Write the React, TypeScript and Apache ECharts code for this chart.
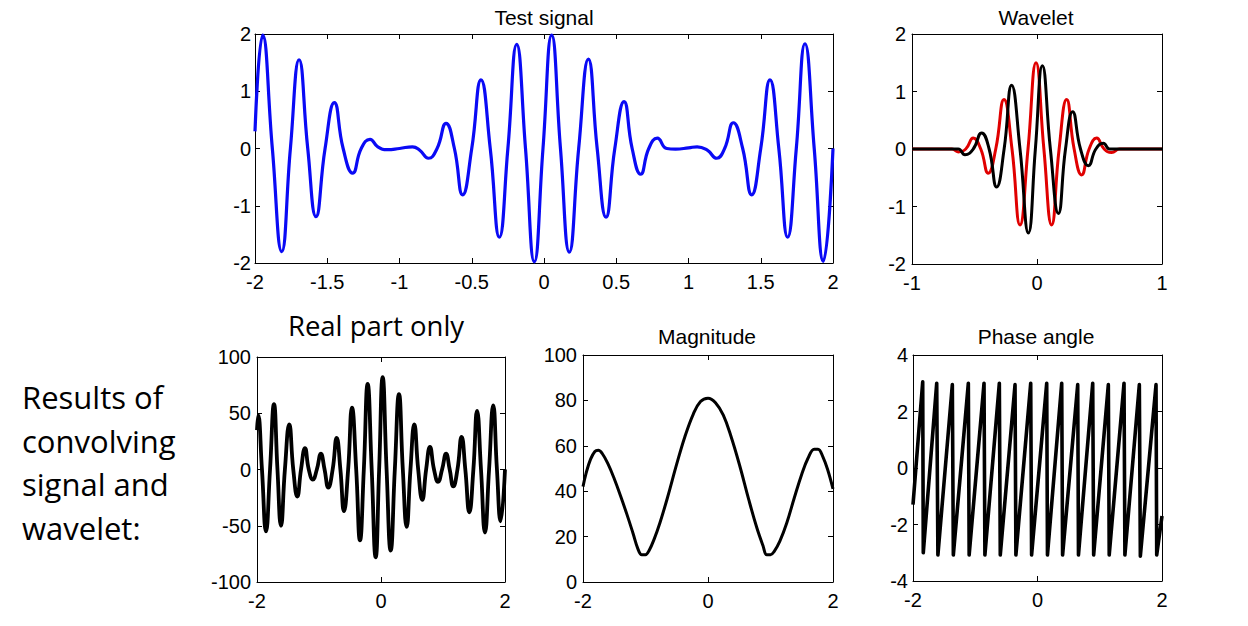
import React, { useEffect, useRef } from "react";
import * as echarts from "echarts";

// ---------- data ----------
const testSignal: [number, number][] = [
  [-2, 0.3], [-1.947, 1.98], [-1.88, 0], [-1.815, -1.8], [-1.755, 0], [-1.695, 1.55],
  [-1.635, 0], [-1.578, -1.19], [-1.515, 0], [-1.451, 0.8], [-1.39, 0], [-1.324, -0.43],
  [-1.265, 0], [-1.204, 0.16], [-1.15, 0.03], [-1.085, -0.02], [-1.0, 0.0], [-0.91, 0.03],
  [-0.86, -0.03], [-0.8, -0.17], [-0.74, 0], [-0.678, 0.44], [-0.62, 0], [-0.563, -0.81],
  [-0.5, 0], [-0.436, 1.2], [-0.372, 0], [-0.309, -1.55], [-0.25, 0], [-0.189, 1.82],
  [-0.128, 0], [-0.067, -1.98], [-0.007, 0], [0.053, 1.98], [0.114, 0], [0.175, -1.81],
  [0.24, 0], [0.307, 1.56], [0.368, 0], [0.429, -1.2], [0.49, 0], [0.554, 0.82],
  [0.61, 0], [0.669, -0.45], [0.725, 0], [0.784, 0.18], [0.85, 0.0], [0.91, -0.01],
  [1.0, 0.01], [1.06, 0.03], [1.13, -0.03], [1.195, -0.17], [1.25, 0], [1.31, 0.45],
  [1.375, 0], [1.437, -0.81], [1.5, 0], [1.564, 1.2], [1.625, 0], [1.686, -1.55],
  [1.746, 0], [1.806, 1.83], [1.87, 0], [1.933, -1.97], [2, 0.0],
];

const waveletReal: [number, number][] = [
  [-1, 0], [-0.75, 0], [-0.68, 0], [-0.63, -0.05], [-0.57, 0], [-0.51, 0.19], [-0.45, 0],
  [-0.39, -0.42], [-0.33, 0], [-0.264, 0.86], [-0.2, 0], [-0.136, -1.32], [-0.072, 0],
  [-0.008, 1.5], [0.055, 0], [0.117, -1.32], [0.177, 0], [0.237, 0.86], [0.297, 0],
  [0.357, -0.45], [0.417, 0], [0.477, 0.19], [0.537, 0], [0.597, -0.06], [0.66, 0],
  [0.75, 0], [1, 0],
];

const waveletImag: [number, number][] = [
  [-1, 0], [-0.7, 0], [-0.63, 0], [-0.576, -0.1], [-0.51, 0], [-0.443, 0.28], [-0.383, 0],
  [-0.323, -0.66], [-0.263, 0], [-0.203, 1.11], [-0.136, 0], [-0.069, -1.46], [-0.013, 0],
  [0.043, 1.45], [0.107, 0], [0.171, -1.12], [0.228, 0], [0.285, 0.65], [0.348, 0],
  [0.411, -0.29], [0.471, 0], [0.531, 0.1], [0.58, 0], [0.65, 0], [1, 0],
];

const realPart: [number, number][] = [
  [-2, 35], [-1.98, 48], [-1.92, 0], [-1.855, -55], [-1.79, 0], [-1.726, 58], [-1.67, 0],
  [-1.613, -50], [-1.55, 0], [-1.48, 40], [-1.415, 0], [-1.35, -24], [-1.29, 0], [-1.226, 19],
  [-1.165, 0], [-1.1, -9], [-1.035, 0], [-0.97, 14], [-0.91, 0], [-0.85, -16], [-0.78, 0],
  [-0.715, 28], [-0.655, 0], [-0.597, -37], [-0.53, 0], [-0.468, 55], [-0.4, 0], [-0.339, -63],
  [-0.277, 0], [-0.215, 76], [-0.15, 0], [-0.086, -78], [-0.03, 0], [0.027, 82], [0.09, 0],
  [0.156, -72], [0.223, 0], [0.29, 67], [0.352, 0], [0.414, -51], [0.475, 0], [0.537, 40],
  [0.6, 0], [0.666, -27], [0.728, 0], [0.79, 20], [0.855, 0], [0.92, -11], [0.985, 0],
  [1.05, 14], [1.108, 0], [1.166, -15], [1.233, 0], [1.3, 29], [1.36, 0], [1.425, -38],
  [1.49, 0], [1.55, 52], [1.613, 0], [1.677, -56], [1.743, 0], [1.81, 57], [1.87, 0],
  [1.93, -46], [2, 0],
];

const magnitude: [number, number][] = [
  [-2, 42], [-1.95, 48], [-1.88, 54], [-1.81, 57.5], [-1.755, 58], [-1.69, 56.5], [-1.6, 52],
  [-1.5, 45.5], [-1.4, 38], [-1.3, 30], [-1.2, 21.5], [-1.12, 14.5], [-1.06, 12], [-1.0, 12],
  [-0.94, 14], [-0.86, 19], [-0.77, 26], [-0.65, 37], [-0.5, 52], [-0.37, 64], [-0.235, 74],
  [-0.12, 79.5], [0.0, 81], [0.12, 79], [0.245, 73.5], [0.37, 64], [0.51, 51], [0.65, 36.5],
  [0.78, 24], [0.88, 16], [0.94, 12], [1.0, 12], [1.06, 13.5], [1.15, 18], [1.26, 26],
  [1.38, 37], [1.5, 47.5], [1.6, 54.5], [1.7, 58.5], [1.76, 58.5], [1.84, 55], [1.92, 49],
  [2, 41],
];

const phaseStart: [number, number] = [-2, -1.3];
const phaseEnd: [number, number] = [2, -1.7];
const phaseTopX = [-1.844, -1.619, -1.368, -1.111, -0.859, -0.613, -0.361, -0.109, 0.148, 0.389, 0.646, 0.887, 1.138, 1.39, 1.636, 1.904];
const phaseTopY = [3.05, 3.0, 2.95, 3.0, 3.0, 3.0, 2.95, 3.0, 3.0, 3.0, 2.95, 3.0, 2.95, 3.0, 2.95, 2.95];
const phaseBottomX = [-1.835, -1.6, -1.352, -1.098, -0.845, -0.598, -0.347, -0.095, 0.16, 0.403, 0.658, 0.902, 1.152, 1.404, 1.652, 1.915];
const phaseBottomY = [-3.0, -3.08, -3.08, -3.08, -3.08, -3.08, -3.08, -3.08, -3.08, -3.08, -3.08, -3.08, -3.08, -3.08, -3.12, -3.08];

const titles = ["Test signal", "Wavelet", "Magnitude", "Phase angle"];
const sideText = ["Results of", "convolving", "signal and", "wavelet:"];

// ---------- layout ----------
const FONT = '"Liberation Sans", Arial, Helvetica, sans-serif';
const grids = [
  { left: 255, top: 34, width: 578, height: 229, xMin: -2, xMax: 2, xInt: 0.5, yMin: -2, yMax: 2, yInt: 1, yMargin: 4 },
  { left: 912, top: 34, width: 250, height: 230, xMin: -1, xMax: 1, xInt: 1, yMin: -2, yMax: 2, yInt: 1, yMargin: 6 },
  { left: 257, top: 357, width: 248, height: 225, xMin: -2, xMax: 2, xInt: 2, yMin: -100, yMax: 100, yInt: 50, yMargin: 6 },
  { left: 583, top: 355, width: 250, height: 227, xMin: -2, xMax: 2, xInt: 2, yMin: 0, yMax: 100, yInt: 20, yMargin: 6 },
  { left: 913, top: 355, width: 249, height: 226, xMin: -2, xMax: 2, xInt: 2, yMin: -4, yMax: 4, yInt: 2, yMargin: 5 },
];

function axisCommon(show: boolean, margin: number) {
  return {
    axisLine: { show: true, onZero: false, lineStyle: { color: "#000", width: 1 } },
    axisTick: { show: true, inside: true, length: 5, lineStyle: { color: "#000", width: 1 } },
    axisLabel: {
      show,
      color: "#000",
      fontSize: 20,
      fontFamily: FONT,
      margin,
      showMinLabel: true,
      showMaxLabel: true,
    },
    splitLine: { show: false },
  };
}

export default function App() {
  const ref = useRef<HTMLDivElement>(null);
  useEffect(() => {
    if (!ref.current) return;
    const chart = echarts.init(ref.current, undefined, { renderer: "svg" });

    const xAxis: any[] = [];
    const yAxis: any[] = [];
    grids.forEach((g, i) => {
      xAxis.push({ type: "value", gridIndex: i, position: "bottom", min: g.xMin, max: g.xMax, interval: g.xInt, ...axisCommon(true, 9) });
      xAxis.push({ type: "value", gridIndex: i, position: "top", min: g.xMin, max: g.xMax, interval: g.xInt, ...axisCommon(false, 9) });
      yAxis.push({ type: "value", gridIndex: i, position: "left", min: g.yMin, max: g.yMax, interval: g.yInt, ...axisCommon(true, g.yMargin) });
      yAxis.push({ type: "value", gridIndex: i, position: "right", min: g.yMin, max: g.yMax, interval: g.yInt, ...axisCommon(false, 6) });
    });

    const phase: [number, number][] = [phaseStart];
    phaseTopX.forEach((x, k) => {
      phase.push([x, phaseTopY[k]]);
      phase.push([phaseBottomX[k], phaseBottomY[k]]);
    });
    phase.push(phaseEnd);

    const line = (gi: number, data: [number, number][], color: string, width: number, smooth: boolean | number) => ({
      type: "line",
      xAxisIndex: gi * 2,
      yAxisIndex: gi * 2,
      data,
      smooth,
      symbol: "none",
      lineStyle: { color, width, join: "round" },
      emphasis: { disabled: true },
      silent: true,
    });

    const textEl = (text: string, x: number, y: number, size: number, family: string, align = "center") => ({
      type: "text",
      x,
      y,
      silent: true,
      style: {
        text,
        font: `${size}px ${family}`,
        fill: "#000",
        textAlign: align,
        textVerticalAlign: "middle",
        align,
        verticalAlign: "middle",
      },
    });

    const OPEN = '"Open Sans", "Noto Sans", sans-serif';

    chart.setOption({
      animation: false,
      backgroundColor: "#fff",
      grid: grids.map((g) => ({ left: g.left, top: g.top, width: g.width, height: g.height, containLabel: false })),
      xAxis,
      yAxis,
      series: [
        line(0, testSignal, "#0a0af5", 3.2, 0.5),
        line(1, waveletReal, "#e00000", 3, 0.5),
        line(1, waveletImag, "#000", 3, 0.5),
        line(2, realPart, "#000", 3.8, 0.5),
        line(3, magnitude, "#000", 3, 0.4),
        line(4, phase, "#000", 3.6, false),
      ],
      graphic: [
        textEl(titles[0], 544, 17, 21, FONT),
        textEl(titles[1], 1036, 17, 21, FONT),
        textEl(titles[2], 707, 336, 21, FONT),
        textEl(titles[3], 1036, 336, 21, FONT),
        textEl("Real part only", 376, 325, 27.5, OPEN),
        ...sideText.map((t, i) => textEl(t, 22, 397 + i * 43.5, 31, OPEN, "left")),
      ],
    });
    return () => chart.dispose();
  }, []);

  return (
    <div
      ref={ref}
      style={{ position: "absolute", left: 0, top: 0, width: 1248, height: 626, background: "#fff" }}
    />
  );
}
